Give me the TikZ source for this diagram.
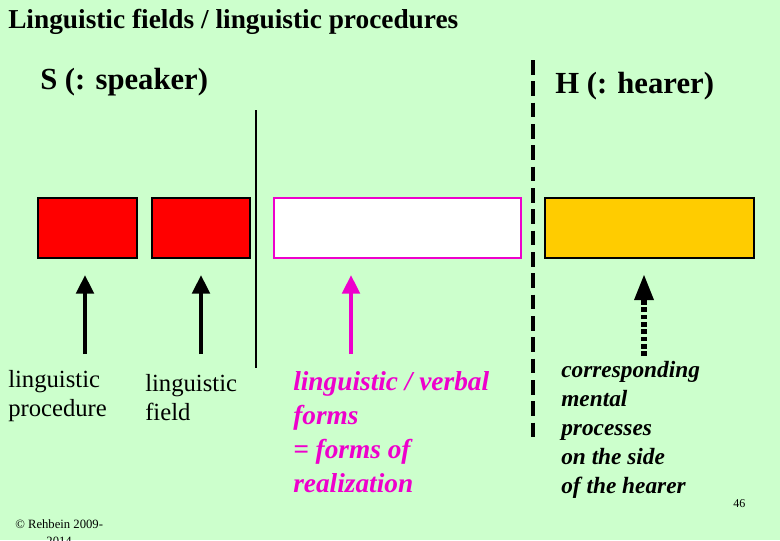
\documentclass[tikz,border=0pt]{standalone}
\usepackage{fontspec}
\setmainfont{Liberation Serif}
\usetikzlibrary{arrows.meta}
\begin{document}
\begin{tikzpicture}[x=0.75pt,y=-0.75pt,
  lbl/.style={anchor=north west,align=left,inner sep=0pt,font=\fontsize{18.5}{22}\selectfont},
  blk/.style={draw=black,line width=1.2pt},
  arr/.style={line width=3pt,-{Triangle[length=14pt,width=13pt]}}]
\clip (0,0) rectangle (780,540);
\fill[fill={rgb,255:red,204;green,255;blue,204}] (0,0) rectangle (780,540);
\node[lbl,font=\bfseries\fontsize{20.5}{22}\selectfont] (title) at (8,9) {Linguistic fields / linguistic procedures};
\node[lbl,font=\bfseries\fontsize{23}{26}\selectfont] (s) at (40,68) {S (: speaker)};
\node[lbl,font=\bfseries\fontsize{23}{26}\selectfont] (h) at (555,72) {H (: hearer)};
\draw[line width=1.2pt] (256,110) -- (256,368);
\draw[line width=2.5pt,dash pattern=on 11pt off 5pt] (533,60) -- (533,442);
\node[blk,fill=red,minimum width=74.25pt,minimum height=45pt,inner sep=0pt] (r1) at (87.5,228) {};
\node[blk,fill=red,minimum width=73.5pt,minimum height=45pt,inner sep=0pt] (r2) at (201,228) {};
\node[draw={rgb,255:red,238;green,0;blue,204},line width=1.8pt,fill=white,minimum width=185pt,minimum height=45pt,inner sep=0pt] (m) at (397.5,228) {};
\node[blk,fill={rgb,255:red,255;green,204;blue,0},minimum width=156.75pt,minimum height=45pt,inner sep=0pt] (y) at (649.5,228) {};
\coordinate (a1) at (85,354); \coordinate (a2) at (201,354);
\coordinate (a3) at (351,354); \coordinate (a4) at (644,356);
\draw[arr] (a1) -- (85,275);
\draw[arr] (a2) -- (201,275);
\draw[arr,draw={rgb,255:red,238;green,0;blue,204},fill={rgb,255:red,238;green,0;blue,204}] (a3) -- (351,275);
\draw[line width=5pt,dash pattern=on 3.5pt off 2pt] (a4) -- (644,298);
\fill (644,275) -- (634,300) -- (654,300) -- cycle;
\node[lbl] (l1) at (8,370) {linguistic\\procedure};
\node[lbl] (l2) at (145,374) {linguistic\\field};
\node[lbl,font=\bfseries\itshape\fontsize{20.5}{25.5}\selectfont,text={rgb,255:red,238;green,0;blue,204}] (l3) at (293,371) {linguistic / verbal\\forms\\= forms of\\realization};
\node[lbl,font=\bfseries\itshape\fontsize{17.5}{21.8}\selectfont] (l4) at (561,361) {corresponding\\mental\\processes\\on the side\\of the hearer};
\node[lbl,font=\fontsize{9}{12}\selectfont] (n) at (733,499) {46};
\node[lbl,font=\fontsize{9.5}{13}\selectfont,align=center] (c) at (15,519) {\textcopyright{} Rehbein 2009-\\2014};
\end{tikzpicture}
\end{document}
